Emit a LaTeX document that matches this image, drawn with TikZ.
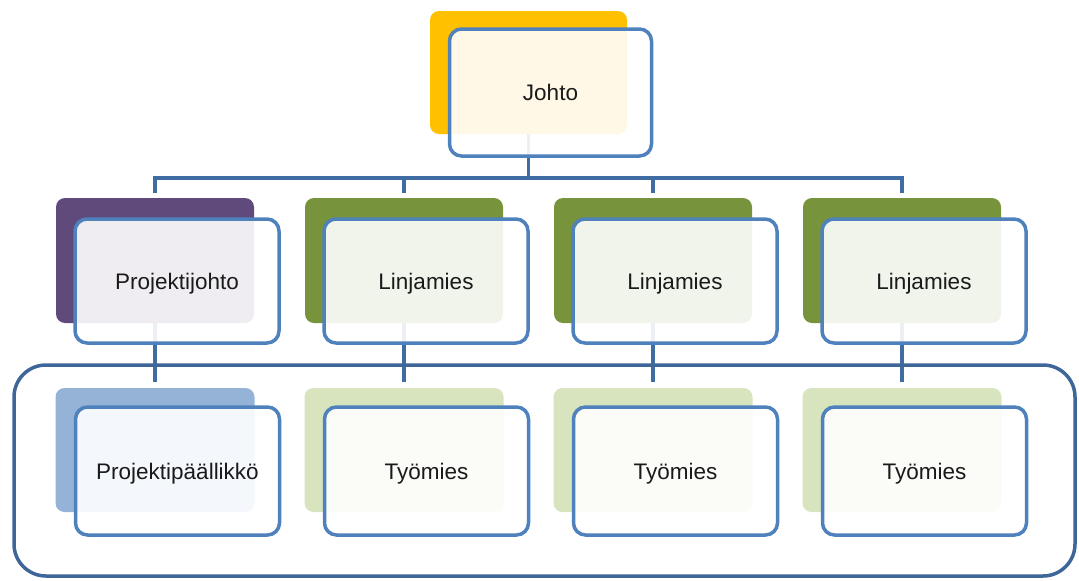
\documentclass[tikz,border=0pt]{standalone}
\usepackage{fontspec}
\setmainfont{Liberation Sans}
\pgfdeclarelayer{bg}
\pgfsetlayers{bg,main}
\definecolor{cgold}{HTML}{FFC000}
\definecolor{cpurple}{HTML}{604A7B}
\definecolor{cgreen}{HTML}{77933C}
\definecolor{clblue}{HTML}{95B3D7}
\definecolor{clgreen}{HTML}{D7E4BD}
\definecolor{coutline}{HTML}{4F81BD}
\definecolor{cconn}{HTML}{3F6CA3}
\definecolor{cframe}{HTML}{3F6699}
\definecolor{ctext}{HTML}{1A1A1A}
\tikzset{
  backbox/.style={rectangle, rounded corners=9pt, draw=none, inner sep=0pt},
  frontbox/.style={rectangle, rounded corners=12pt, draw=coutline, line width=3.5pt,
    fill=white, fill opacity=0.9, text opacity=1, text=ctext, inner sep=0pt,
    text height=16pt, text depth=0pt,
    font=\fontsize{22.5}{26}\selectfont},
  conn/.style={draw=cconn, line width=3.5pt},
  frame/.style={draw=cframe, line width=3.5pt, rounded corners=32pt}
}
\begin{document}
\begin{tikzpicture}[x=1pt,y=-1pt]
\useasboundingbox (0,0) rectangle (1079,581);
% top level
\node[backbox, fill=cgold, minimum width=197pt, minimum height=123pt] (b0) at (528.5,72.5) {};
\node[frontbox, minimum width=202pt, minimum height=127pt] (f0) at (550.5,92.5) {Johto};
% second level
\node[backbox, fill=cpurple, minimum width=198pt, minimum height=125pt] (s1) at (155,260.5) {};
\node[backbox, fill=cgreen, minimum width=198pt, minimum height=125pt] (s2) at (404,260.5) {};
\node[backbox, fill=cgreen, minimum width=198pt, minimum height=125pt] (s3) at (653,260.5) {};
\node[backbox, fill=cgreen, minimum width=198pt, minimum height=125pt] (s4) at (902,260.5) {};
\node[frontbox, minimum width=204pt, minimum height=124pt] (g1) at (177,281) {Projektijohto};
\node[frontbox, minimum width=204pt, minimum height=124pt] (g2) at (426,281) {Linjamies};
\node[frontbox, minimum width=204pt, minimum height=124pt] (g3) at (675,281) {Linjamies};
\node[frontbox, minimum width=204pt, minimum height=124pt] (g4) at (924,281) {Linjamies};
% third level
\node[backbox, fill=clblue, minimum width=199pt, minimum height=124pt] (t1) at (155,450) {};
\node[backbox, fill=clgreen, minimum width=199pt, minimum height=124pt] (t2) at (404,450) {};
\node[backbox, fill=clgreen, minimum width=199pt, minimum height=124pt] (t3) at (653,450) {};
\node[backbox, fill=clgreen, minimum width=199pt, minimum height=124pt] (t4) at (902,450) {};
\node[frontbox, minimum width=204pt, minimum height=128pt] (h1) at (177.5,471) {Projektipäällikkö};
\node[frontbox, minimum width=204pt, minimum height=128pt] (h2) at (426.5,471) {Työmies};
\node[frontbox, minimum width=204pt, minimum height=128pt] (h3) at (675.5,471) {Työmies};
\node[frontbox, minimum width=204pt, minimum height=128pt] (h4) at (924.5,471) {Työmies};
% group frame
\node[frame, rectangle, minimum width=1061pt, minimum height=211pt, inner sep=0pt] (grp) at (544.5,470.5) {};
% connectors
\coordinate (bus) at (528.5,178);
\begin{pgfonlayer}{bg}
\draw[conn] (b0.south) -- (bus);
\draw[conn] ([xshift=-1.75pt]s1.north |- bus) -- ([xshift=1.75pt]s4.north |- bus);
\foreach \i in {1,2,3,4}{
  \draw[conn] (bus -| s\i.north) -- ([yshift=5pt]s\i.north);
  \draw[conn] (s\i.south) -- ([yshift=6pt]t\i.north);
}
\end{pgfonlayer}
\end{tikzpicture}
\end{document}
